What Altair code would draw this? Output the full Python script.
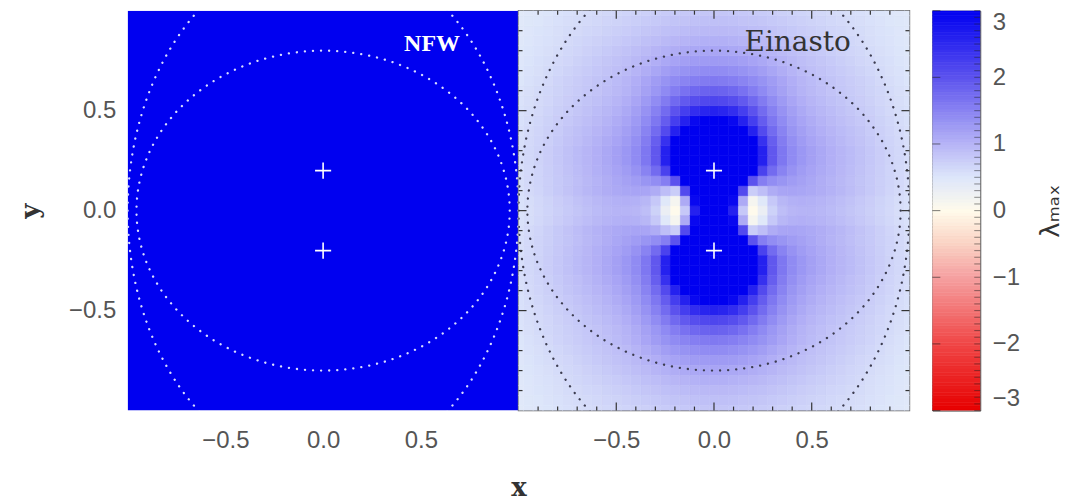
import altair as alt
import pandas as pd

# ---------------- data ----------------
# Einasto lambda_max, upper-right quadrant: rows y = 0.00 .. 1.00, columns x = 0.00 .. 1.00 (step 0.05).
# The map is mirror-symmetric about both axes.
grid_step = 0.05
einasto_q = [
    [3.5, 3.4, 2.6, 0.8, 0.02, 0.3, 0.7, 0.9, 0.98, 1.0, 1.0, 0.97, 0.93, 0.88, 0.83, 0.78, 0.73, 0.68, 0.63, 0.58, 0.54],
    [3.5, 3.5, 2.9, 1.1, 0.15, 0.45, 0.8, 0.97, 1.03, 1.05, 1.03, 1.0, 0.96, 0.91, 0.86, 0.8, 0.75, 0.69, 0.64, 0.59, 0.55],
    [3.5, 3.5, 3.3, 2.1, 0.75, 0.9, 1.08, 1.15, 1.16, 1.14, 1.11, 1.07, 1.02, 0.97, 0.91, 0.85, 0.79, 0.73, 0.67, 0.62, 0.57],
    [3.5, 3.5, 3.5, 3.1, 2.0, 1.55, 1.4, 1.32, 1.25, 1.19, 1.13, 1.07, 1.01, 0.96, 0.9, 0.84, 0.79, 0.73, 0.68, 0.63, 0.58],
    [3.5, 3.5, 3.5, 3.5, 3.0, 2.2, 1.75, 1.5, 1.35, 1.25, 1.17, 1.1, 1.04, 0.98, 0.92, 0.86, 0.8, 0.74, 0.68, 0.63, 0.58],
    [3.5, 3.5, 3.5, 3.5, 3.3, 2.6, 1.95, 1.62, 1.42, 1.3, 1.2, 1.12, 1.05, 0.99, 0.93, 0.87, 0.81, 0.75, 0.69, 0.64, 0.59],
    [3.5, 3.5, 3.5, 3.5, 3.3, 2.6, 1.95, 1.62, 1.42, 1.3, 1.2, 1.12, 1.05, 0.99, 0.93, 0.87, 0.81, 0.75, 0.69, 0.64, 0.59],
    [3.5, 3.5, 3.5, 3.4, 3.0, 2.4, 1.88, 1.57, 1.38, 1.26, 1.16, 1.09, 1.02, 0.96, 0.9, 0.85, 0.79, 0.73, 0.68, 0.63, 0.58],
    [3.5, 3.5, 3.4, 3.1, 2.6, 2.1, 1.75, 1.5, 1.32, 1.21, 1.12, 1.05, 0.99, 0.93, 0.88, 0.83, 0.77, 0.72, 0.67, 0.62, 0.57],
    [3.2, 3.1, 2.9, 2.6, 2.25, 1.9, 1.62, 1.42, 1.27, 1.16, 1.08, 1.01, 0.95, 0.9, 0.85, 0.8, 0.75, 0.7, 0.65, 0.6, 0.56],
    [2.6, 2.55, 2.45, 2.25, 2.0, 1.75, 1.52, 1.35, 1.21, 1.11, 1.03, 0.97, 0.92, 0.87, 0.82, 0.77, 0.73, 0.68, 0.63, 0.59, 0.55],
    [2.15, 2.12, 2.05, 1.93, 1.77, 1.58, 1.41, 1.27, 1.15, 1.06, 0.99, 0.93, 0.88, 0.84, 0.79, 0.75, 0.71, 0.66, 0.62, 0.58, 0.54],
    [1.85, 1.83, 1.78, 1.68, 1.56, 1.43, 1.3, 1.19, 1.09, 1.01, 0.95, 0.9, 0.85, 0.81, 0.77, 0.73, 0.69, 0.65, 0.61, 0.57, 0.53],
    [1.6, 1.58, 1.55, 1.49, 1.42, 1.34, 1.24, 1.15, 1.06, 0.99, 0.93, 0.88, 0.84, 0.8, 0.76, 0.72, 0.68, 0.63, 0.59, 0.55, 0.51],
    [1.42, 1.41, 1.38, 1.34, 1.29, 1.22, 1.14, 1.07, 1.0, 0.94, 0.89, 0.85, 0.81, 0.77, 0.73, 0.69, 0.65, 0.61, 0.57, 0.54, 0.5],
    [1.27, 1.26, 1.24, 1.21, 1.17, 1.12, 1.06, 1.0, 0.95, 0.9, 0.86, 0.82, 0.78, 0.74, 0.7, 0.66, 0.63, 0.59, 0.56, 0.52, 0.49],
    [1.15, 1.14, 1.12, 1.1, 1.07, 1.03, 0.99, 0.94, 0.9, 0.86, 0.82, 0.78, 0.74, 0.71, 0.67, 0.64, 0.6, 0.57, 0.54, 0.51, 0.48],
    [1.04, 1.04, 1.02, 1.0, 0.98, 0.95, 0.91, 0.88, 0.84, 0.81, 0.77, 0.74, 0.71, 0.68, 0.65, 0.62, 0.58, 0.55, 0.53, 0.5, 0.47],
    [0.95, 0.95, 0.94, 0.92, 0.9, 0.88, 0.85, 0.82, 0.79, 0.76, 0.73, 0.7, 0.67, 0.65, 0.62, 0.6, 0.57, 0.54, 0.52, 0.49, 0.46],
    [0.88, 0.88, 0.87, 0.85, 0.84, 0.82, 0.79, 0.77, 0.74, 0.72, 0.69, 0.67, 0.64, 0.62, 0.6, 0.58, 0.55, 0.53, 0.5, 0.48, 0.45],
    [0.82, 0.82, 0.81, 0.8, 0.78, 0.77, 0.75, 0.72, 0.7, 0.68, 0.66, 0.64, 0.62, 0.6, 0.58, 0.56, 0.54, 0.51, 0.49, 0.47, 0.44],
]
nfw_value = [3.5]               # NFW: saturated above the colour range everywhere
contour_rx = [0.955, 1.0]       # dotted contours, semi-axes in x
contour_ry = [0.80, 1.30]       # dotted contours, semi-axes in y
marker_x = [0.0, 0.0]
marker_y = [0.2, -0.2]
panel_labels = ["NFW", "Einasto"]
axis_ticks = [-0.5, 0.0, 0.5]
minor_ticks = [-0.9, -0.8, -0.7, -0.6, -0.4, -0.3, -0.2, -0.1,
               0.1, 0.2, 0.3, 0.4, 0.6, 0.7, 0.8, 0.9]
cbar_ticks = [-3, -2, -1, 0, 1, 2, 3]
color_stops = [-3, -2, -1, -0.5, 0, 0.5, 1, 2, 3]
color_list = ["#e60000", "#f04646", "#f5a0a0", "#fad2c3", "#fffbeb",
              "#dde6fa", "#b6b4f6", "#5c52ee", "#0000f0"]

# ---------------- build the full (mirrored) table ----------------
cells = {}
for i, row in enumerate(einasto_q):
    for j, v in enumerate(row):
        for sx in (1, -1):
            for sy in (1, -1):
                key = (round(sx * j * grid_step, 3), round(sy * i * grid_step, 3))
                cells[key] = v
heat_df = pd.DataFrame([{"x": k[0], "y": k[1], "v": v} for k, v in cells.items()])

# ---------------- scales / axes ----------------
W, H = 392, 401
xs = alt.Scale(domain=[-1, 1], nice=False, zero=False)
ys = alt.Scale(domain=[-1, 1], nice=False, zero=False)
cscale = alt.Scale(domain=color_stops, range=color_list, interpolate="rgb", clamp=True)

label_style = dict(labelFontSize=24, labelColor="#555555", labelFont="Liberation Sans",
                   ticks=False, domain=False, grid=False)
title_style = dict(titleFont="DejaVu Serif", titleFontWeight="bold", titleFontSize=26,
                   titleColor="#333333")

x_axis_left = alt.Axis(values=axis_ticks, format=".1f", labelPadding=18, title="x",
                       titleX=W, titleY=77, titleBaseline="middle", titleAlign="center",
                       **label_style, **title_style)
x_axis_right = alt.Axis(values=axis_ticks, format=".1f", labelPadding=18, title="",
                        **label_style)
y_axis_left = alt.Axis(values=axis_ticks, format=".1f", labelPadding=12, title="y",
                       titleX=-97, titleY=H / 2, titleAngle=270, titleAlign="center",
                       titleBaseline="middle", **label_style, **title_style)
y_axis_right = None


def contour_layer(rx, ry, color, xa, ya):
    return alt.Chart(alt.sequence(0, 361, 2, as_="deg")).transform_calculate(
        cx=f"{rx}*cos(datum.deg*PI/180)", cy=f"{ry}*sin(datum.deg*PI/180)"
    ).mark_line(clip=True, color=color, strokeDash=[0.1, 8], strokeWidth=2.3,
                strokeCap="round").encode(
        x=alt.X("cx:Q", scale=xs, axis=xa),
        y=alt.Y("cy:Q", scale=ys, axis=ya),
        order="deg:Q",
    )


def marker_layer(xa, ya):
    return alt.Chart(pd.DataFrame({"mx": marker_x, "my": marker_y})).mark_point(
        shape="M-1,0L1,0M0,-1L0,1", size=260, filled=False, stroke="white",
        strokeWidth=1.6, opacity=1).encode(
        x=alt.X("mx:Q", scale=xs, axis=xa), y=alt.Y("my:Q", scale=ys, axis=ya))


def label_layer(text, color, font, size, weight, xa, ya):
    return alt.Chart(pd.DataFrame({"t": [text]})).mark_text(
        align="right", baseline="alphabetic", font=font, fontSize=size,
        fontWeight=weight, color=color).encode(
        x=alt.X(datum=0.70, scale=xs, axis=xa),
        y=alt.Y(datum=0.80, scale=ys, axis=ya), text="t:N")


def frame_ticks(values, length, xa, ya):
    """Inward tick marks on the four edges of a panel."""
    tdf = pd.DataFrame({"tv": values})
    style = dict(color="#333333", strokeWidth=1.2)
    return [
        alt.Chart(tdf).mark_rule(**style).encode(
            x=alt.X("tv:Q", scale=xs, axis=xa), y=alt.value(0), y2=alt.value(length)),
        alt.Chart(tdf).mark_rule(**style).encode(
            x=alt.X("tv:Q", scale=xs, axis=xa), y=alt.value(H), y2=alt.value(H - length)),
        alt.Chart(tdf).mark_rule(**style).encode(
            y=alt.Y("tv:Q", scale=ys, axis=ya), x=alt.value(0), x2=alt.value(length)),
        alt.Chart(tdf).mark_rule(**style).encode(
            y=alt.Y("tv:Q", scale=ys, axis=ya), x=alt.value(W), x2=alt.value(W - length)),
    ]


# ---------------- NFW panel ----------------
nfw_bg = alt.Chart(pd.DataFrame({"v": nfw_value})).transform_calculate(
    x0="-1", x1="1", y0="-1", y1="1"
).mark_rect(clip=True).encode(
    x=alt.X("x0:Q", scale=xs, axis=x_axis_left), x2="x1:Q",
    y=alt.Y("y0:Q", scale=ys, axis=y_axis_left), y2="y1:Q",
    color=alt.Color("v:Q", scale=cscale, legend=None),
)
left = alt.layer(
    nfw_bg,
    contour_layer(contour_rx[0], contour_ry[0], "#d8dcff", x_axis_left, y_axis_left),
    contour_layer(contour_rx[1], contour_ry[1], "#d8dcff", x_axis_left, y_axis_left),
    marker_layer(x_axis_left, y_axis_left),
    label_layer(panel_labels[0], "white", "Liberation Serif", 24, "bold",
                x_axis_left, y_axis_left),
).properties(width=W, height=H, view=alt.ViewBackground(stroke="transparent"))

# ---------------- Einasto panel ----------------
heat = alt.Chart(heat_df).transform_calculate(
    x0=f"datum.x-{grid_step / 2}", x1=f"datum.x+{grid_step / 2}",
    y0=f"datum.y-{grid_step / 2}", y1=f"datum.y+{grid_step / 2}",
).mark_rect(clip=True, strokeWidth=0.6).encode(
    x=alt.X("x0:Q", scale=xs, axis=x_axis_right), x2="x1:Q",
    y=alt.Y("y0:Q", scale=ys, axis=y_axis_right), y2="y1:Q",
    color=alt.Color("v:Q", scale=cscale, legend=None),
    stroke=alt.Stroke("v:Q", scale=cscale, legend=None),
)
right = alt.layer(
    heat,
    contour_layer(contour_rx[0], contour_ry[0], "#3c3c50", x_axis_right, y_axis_right),
    contour_layer(contour_rx[1], contour_ry[1], "#3c3c50", x_axis_right, y_axis_right),
    marker_layer(x_axis_right, y_axis_right),
    label_layer(panel_labels[1], "#333333", "DejaVu Serif", 28, "normal",
                x_axis_right, y_axis_right),
    *frame_ticks(minor_ticks, 4, x_axis_right, y_axis_right),
    *frame_ticks(axis_ticks, 8, x_axis_right, y_axis_right),
).properties(width=W, height=H, view=alt.ViewBackground(stroke="#666666", strokeWidth=1.5))

# ---------------- colour bar ----------------
cbar_axis = alt.Axis(orient="right", values=cbar_ticks, format="d", labelPadding=12,
                     labelFlush=True, title="λₘₐₓ", titleAngle=270, titlePadding=44,
                     titleFont="DejaVu Sans", titleFontSize=26, titleColor="#333333",
                     titleFontWeight="normal", **label_style)
cbar_scale = alt.Scale(domain=[-3, 3], nice=False, zero=False)
cbar_fill = alt.Chart(alt.sequence(-3, 3.0001, 0.05, as_="lv")).transform_calculate(
    v0="datum.lv-0.025", v1="datum.lv+0.025"
).mark_rect(clip=True, strokeWidth=0.6).encode(
    x=alt.value(0), x2=alt.value(48),
    y=alt.Y("v0:Q", scale=cbar_scale, axis=cbar_axis),
    y2="v1:Q",
    color=alt.Color("lv:Q", scale=cscale, legend=None),
    stroke=alt.Stroke("lv:Q", scale=cscale, legend=None),
)
cbar_minor = alt.Chart(alt.sequence(-3, 3.0001, 0.1, as_="tv")).mark_rule(
    color="#222222", strokeWidth=1, opacity=0.5
).encode(y=alt.Y("tv:Q", scale=cbar_scale, axis=cbar_axis), x=alt.value(42), x2=alt.value(48))
cbar_major = alt.Chart(pd.DataFrame({"tv": cbar_ticks})).mark_rule(
    color="#222222", strokeWidth=1, opacity=0.6
).encode(y=alt.Y("tv:Q", scale=cbar_scale, axis=cbar_axis), x=alt.value(0), x2=alt.value(8))
cbar = alt.layer(cbar_fill, cbar_minor, cbar_major).properties(
    width=48, height=H, view=alt.ViewBackground(stroke="#444444", strokeWidth=1))

panels = alt.hconcat(left, right, spacing=0, bounds="flush")
chart = alt.hconcat(panels, cbar, spacing=20).properties(
    padding={"left": 9, "top": 0, "right": 0, "bottom": 0},
    background="white",
)

chart.save("out.html", embed_options={"renderer": "svg", "actions": False})
